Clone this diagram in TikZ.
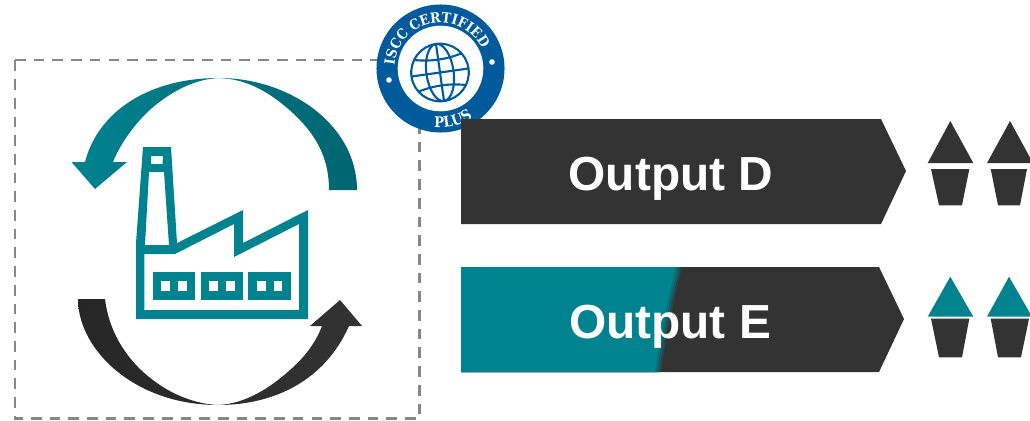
\documentclass[tikz,border=0pt]{standalone}
\usepackage{fontspec}
\usepackage{tikz}
\usetikzlibrary{decorations.text}
\setmainfont{Liberation Sans}
\newfontfamily\sealfont{DejaVu Serif Condensed}
\definecolor{tealish}{HTML}{00828F}
\definecolor{tealdark}{HTML}{006570}
\definecolor{coal}{HTML}{333333}
\definecolor{sealblue}{HTML}{005A9B}
\tikzset{
  banner/.style={fill=coal},
  tipteal/.style={fill=tealish},
  tipcoal/.style={fill=coal},
  cup/.style={fill=coal},
  pane/.style={fill=white},
  bannertext/.style={text=white,font=\fontsize{34}{36}\selectfont\bfseries},
  gridline/.style={draw=sealblue,line width=1.5pt},
}
\begin{document}
\begin{tikzpicture}[x=0.025cm,y=-0.025cm]
  \useasboundingbox (0,0) rectangle (1030,420);
  \draw[black!47,line width=1.9pt,dash pattern=on 7.6pt off 5.7pt] (15,60) -- (419.5,60) -- (419.5,418.5) -- (15,418.5) -- cycle;
  % upper arrow
  \shade[left color=tealish,middle color=tealish,right color=tealdark]
    (85,162) .. controls (98,112) and (148,78) .. (219,78)
    .. controls (290,78) and (357,125) .. (357,190) -- (329,190)
    .. controls (329,160) and (318,138) .. (297,117)
    .. controls (272,93) and (248,79) .. (219,78)
    .. controls (195,79) and (172,91) .. (152,108)
    .. controls (137,121) and (121,142) .. (113,162)
    -- (127,162) -- (95,189) -- (71.5,162) -- cycle;
  % lower arrow
  \shade[left color=black!85,right color=coal]
    (78,299) .. controls (78,350) and (135,405) .. (218,405)
    .. controls (275,405) and (325,380) .. (349,326)
    -- (362,326) -- (340,300) -- (310,326) -- (322,326)
    .. controls (316,342) and (305,357) .. (290,370)
    .. controls (270,388) and (245,404) .. (218,405)
    .. controls (195,404) and (172,394) .. (157,383)
    .. controls (135,368) and (110,340) .. (105,299) -- cycle;
  % factory
  \fill[tealish,even odd rule]
    (136,243) -- (143,147) -- (171,147) -- (177,243) -- (243,210) -- (243,243)
    -- (308,210) -- (308,319) -- (136,319) -- cycle
    (145,245) -- (149,172) -- (164,172) -- (169,245) -- cycle
    (151,156) -- (163,156) -- (162.5,164) -- (151,164) -- cycle
    (144.3,254) -- (175,254) -- (234,224) -- (234,257) -- (299,224) -- (299,310) -- (144.3,310) -- cycle;
  \fill[tealish] (152.7,272) rectangle (195,300);
  \fill[tealish] (200.7,272) rectangle (243,300);
  \fill[tealish] (248.3,272) rectangle (290.7,300);
  \fill[pane] (161,280.7) rectangle (169.7,291.3);
  \fill[pane] (178,280.7) rectangle (186.7,291.3);
  \fill[pane] (209.3,280.7) rectangle (217.7,291.3);
  \fill[pane] (226,280.7) rectangle (234.7,291.3);
  \fill[pane] (257,280.7) rectangle (265.7,291.3);
  \fill[pane] (274,280.7) rectangle (282.3,291.3);
  % seal
  \begin{scope}[shift={(440.5,68.5)},x=0.025cm,y=0.025cm]
    \fill[sealblue] (0,0) circle (1.6cm);
    \fill[white] (0,0) circle (1.07cm);
    \fill[white] (-51.5,-11.5) circle (0.07cm);
    \fill[white] (51.5,6.5) circle (0.07cm);
    \path[decorate,decoration={text along path,text align=center,
      text={|\sealfont\bfseries\fontsize{10}{13}\selectfont\color{white}|ISCC CERTIFIED}}]
      (188:1.15cm) arc[start angle=188,end angle=14,radius=1.15cm];
    \path[decorate,decoration={text along path,text align=center,
      text={|\sealfont\bfseries\fontsize{10.5}{13}\selectfont\color{white}|PLUS}}]
      (250:1.475cm) arc[start angle=250,end angle=317,radius=1.475cm];
    \begin{scope}[shift={(-0.5,-4)},rotate=8]
      \draw[gridline] (0,0) circle (0.72cm);
      \draw[gridline] (0,0) ellipse (0.34cm and 0.72cm);
      \draw[gridline] (0,0.72cm) -- (0,-0.72cm);
      \draw[gridline] (-0.72cm,0) -- (0.72cm,0);
      \draw[gridline] (-0.6cm,0.4cm) .. controls (-0.2cm,0.3cm) and (0.2cm,0.3cm) .. (0.6cm,0.4cm);
      \draw[gridline] (-0.6cm,-0.4cm) .. controls (-0.2cm,-0.3cm) and (0.2cm,-0.3cm) .. (0.6cm,-0.4cm);
    \end{scope}
  \end{scope}
  % banners
  \fill[banner] (461,119) -- (881,119) -- (906,171) -- (881,224) -- (461,224) -- cycle;
  \fill[banner] (461,267) -- (879,267) -- (904,319) -- (879,372) -- (461,372) -- cycle;
  \foreach \d/\m in {2/25,0/50,-2/75,-4/100} {
    \fill[tealish!\m!coal] (461,267) -- (680+\d,267) .. controls (672+\d,300) and (664+\d,335) .. (659+\d,372) -- (461,372) -- cycle;
  }
  \node[bannertext] (outputd) at (671,179) {Output D};
  \node[bannertext] (outpute) at (670,327) {Output E};
  % upper row
  \fill[tipcoal] (950.3,121) -- (973.3,163) -- (927.7,163) -- cycle;
  \fill[tipcoal] (1010,121) -- (1033,163) -- (987,163) -- cycle;
  \fill[cup] (931,169) -- (969.3,169) -- (962,205.3) -- (939,205.3) -- cycle;
  \fill[cup] (990.7,169) -- (1027,169) -- (1020,205.3) -- (998,205.3) -- cycle;
  % lower row
  \fill[tipteal] (950.3,276.7) -- (973.3,316.7) -- (927.7,316.7) -- cycle;
  \fill[tipteal] (1009,276.7) -- (1032,316.7) -- (987,316.7) -- cycle;
  \fill[cup] (931,318.7) -- (969.3,318.7) -- (962,357.3) -- (939,357.3) -- cycle;
  \fill[cup] (990.7,318.7) -- (1029,318.7) -- (1021,357.3) -- (998,357.3) -- cycle;
\end{tikzpicture}
\end{document}
